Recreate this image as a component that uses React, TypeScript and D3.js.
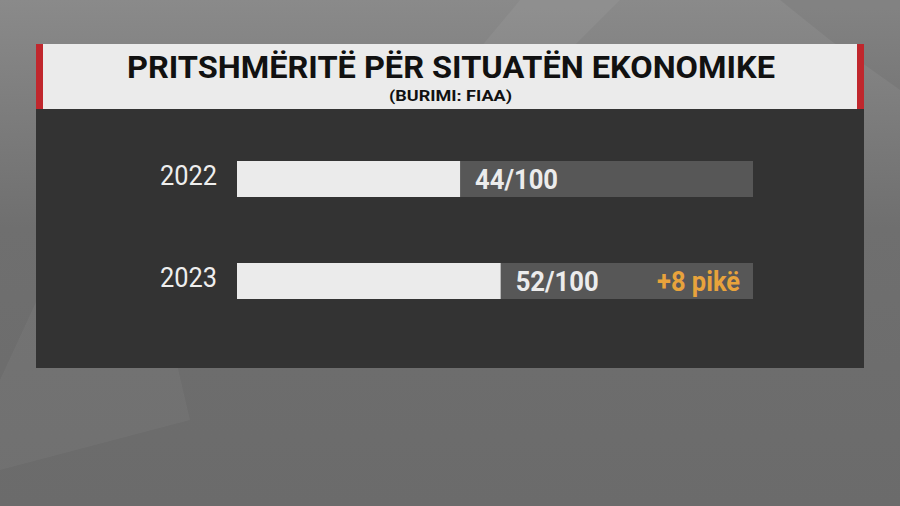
import React from "react";
import * as d3 from "d3";

const years = ["2022", "2023"];
const values = [44, 52];
const valueLabels = ["44/100", "52/100"];
const changeLabels = ["", "+8 pikë"];
const title = "PRITSHMËRITË PËR SITUATËN EKONOMIKE";
const subtitle = "(BURIMI: FIAA)";

export default function App() {
  const W = 900, H = 506;
  const x = d3.scaleLinear().domain([0, 100]).range([237, 744]);
  const y = d3.scaleBand().domain(years).range([161, 299]).paddingInner(66 / 102).paddingOuter(0);
  const trackEnd = 753;
  return (
    <svg width={W} height={H} style={{ position: "absolute", left: 0, top: 0 }}>
      <defs>
        <linearGradient id="bg" x1="0" y1="0" x2="0" y2="1">
          <stop offset="0" stopColor="#8a8a8a" />
          <stop offset="0.45" stopColor="#6f6f6f" />
          <stop offset="1" stopColor="#6b6b6b" />
        </linearGradient>
      </defs>
      <rect width={W} height={H} fill="url(#bg)" />
      <polygon points="520,0 620,0 560,60 470,60" fill="#ffffff" opacity={0.05} />
      <polygon points="0,380 120,120 190,420 0,470" fill="#ffffff" opacity={0.04} />
      <polygon points="780,0 900,0 900,90 830,40" fill="#000000" opacity={0.05} />
      <rect x={36} y={109} width={828} height={259} fill="#333333" />
      <rect x={36} y={44} width={828} height={65} fill="#ebebeb" />
      <rect x={36} y={44} width={7} height={65} fill="#c0272d" />
      <rect x={857} y={44} width={7} height={65} fill="#c0272d" />
      <text x={451} y={78} textAnchor="middle" fontFamily="Roboto, sans-serif" fontWeight={700}
        fontSize={32} fill="#111" textLength={648} lengthAdjust="spacingAndGlyphs">{title}</text>
      <text x={450.5} y={101} textAnchor="middle" fontFamily="Roboto, sans-serif" fontWeight={700}
        fontSize={15} fill="#111" textLength={123} lengthAdjust="spacingAndGlyphs">{subtitle}</text>
      {years.map((yr, i) => {
        const by = y(yr)!;
        const bh = y.bandwidth();
        const cy = by + bh / 2;
        return (
          <g key={yr}>
            <text x={217} y={cy + 5.5} textAnchor="end" fontFamily="Roboto, sans-serif" fontWeight={400}
              fontSize={27} fill="#eeeeee" textLength={57} lengthAdjust="spacingAndGlyphs">{yr}</text>
            <rect x={x(0)} y={by} width={trackEnd - x(0)} height={bh} fill="#575757" />
            <rect x={x(0)} y={by} width={x(values[i]) - x(0)} height={bh} fill="#ebebeb" />
            <text x={x(values[i]) + 15} y={cy + 9.5} fontFamily="Roboto, sans-serif" fontWeight={700}
              fontSize={27} fill="#ececec" textLength={83} lengthAdjust="spacingAndGlyphs">{valueLabels[i]}</text>
            {changeLabels[i] && (
              <text x={740} y={cy + 9.5} textAnchor="end" fontFamily="Roboto, sans-serif" fontWeight={700}
                fontSize={27} fill="#e8a33c" textLength={83} lengthAdjust="spacingAndGlyphs">{changeLabels[i]}</text>
            )}
          </g>
        );
      })}
    </svg>
  );
}
